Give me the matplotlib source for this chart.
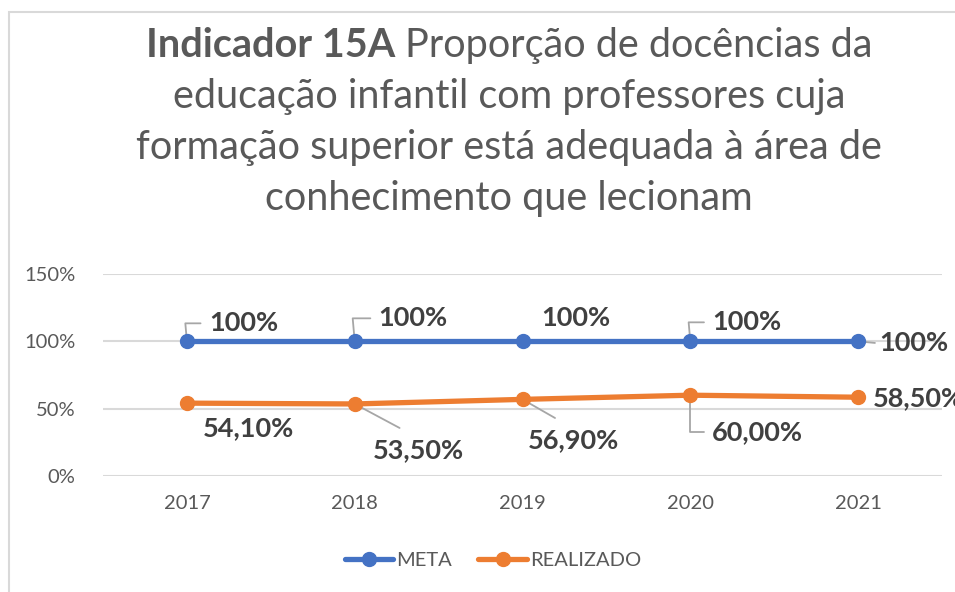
import matplotlib
matplotlib.use("Agg")
import matplotlib.pyplot as plt
from matplotlib.patches import Rectangle

years = ["2017", "2018", "2019", "2020", "2021"]
meta = [100, 100, 100, 100, 100]
realizado = [54.10, 53.50, 56.90, 60.00, 58.50]
meta_labels = ["100%", "100%", "100%", "100%", "100%"]
real_labels = ["54,10%", "53,50%", "56,90%", "60,00%", "58,50%"]
yticks = [0, 50, 100, 150]
ytick_labels = ["0%", "50%", "100%", "150%"]
title_bold = "Indicador 15A"
title_lines = ["Proporção de docências da",
               "educação infantil com professores cuja",
               "formação superior está adequada à área de",
               "conhecimento que lecionam"]

FONT = "Lato"
TXT = "#595959"
LBL = "#404040"
BLUE = "#4472C4"
ORANGE = "#ED7D31"
GRID = "#D9D9D9"
LEAD = "#A6A6A6"

W, H = 955, 592
fig = plt.figure(figsize=(W / 100, H / 100), dpi=100)
plt.rcParams['font.family'] = [FONT, 'DejaVu Sans']

# chart border
fig.patches.append(Rectangle((9 / W, -0.1), 1.2, 1 - 12 / H + 0.1, transform=fig.transFigure,
                             fill=False, edgecolor=GRID, linewidth=1.5))

ax = fig.add_axes([103 / W, 1 - 476 / H, (942 - 103) / W, (476 - 274) / H])
x = list(range(len(years)))
ax.plot(x, meta, color=BLUE, lw=3.8, marker="o", ms=10, solid_capstyle="round", zorder=3, label="META", clip_on=False)
ax.plot(x, realizado, color=ORANGE, lw=3.8, marker="o", ms=10, solid_capstyle="round", zorder=3, label="REALIZADO", clip_on=False)
ax.set_xlim(-0.5, len(years) - 0.5)
ax.set_ylim(0, 150)
ax.set_yticks(yticks)
ax.set_yticklabels(ytick_labels)
ax.set_xticks(x)
ax.set_xticklabels(years)
for s in ax.spines.values():
    s.set_visible(False)
ax.grid(axis="y", color=GRID, lw=1.5)
ax.set_axisbelow(True)
ax.tick_params(length=0, labelsize=14.5, labelcolor=TXT, pad=8)
ax.tick_params(axis="y", pad=20)
ax.tick_params(axis="x", pad=14)

lab_fs = 19.5
lkw = dict(textcoords="offset pixels", fontsize=lab_fs, fontweight="bold", color=LBL,
           annotation_clip=False)
# META labels: (dx, dy, leader)
meta_off = [(22, 18, "angle"), (24, 23, "angle"), (19, 23, None), (22, 19, "angle"), (21, -2, "straight")]
for i, (dx, dy, ld) in enumerate(meta_off):
    ap = None
    if ld == "angle":
        ap = dict(arrowstyle="-", color=LEAD, lw=1.3, relpos=(0, 0.5), shrinkA=4, shrinkB=0,
                  connectionstyle="angle,angleA=0,angleB=95,rad=0")
    elif ld == "straight":
        ap = dict(arrowstyle="-", color=LEAD, lw=1.3, relpos=(0, 0.5), shrinkA=1, shrinkB=0)
    ax.annotate(meta_labels[i], (x[i], meta[i]), xytext=(dx, dy), ha="left", va="center",
                arrowprops=ap, zorder=2, **lkw)

real_off = [(16, -25, None, None), (18, -46, "straight", (0.5, 1)), (5, -41, "straight", (0.5, 1)),
            (22, -37, "angle", (0, 0.5)), (15, -1, None, None)]
for i, (dx, dy, ld, rp) in enumerate(real_off):
    ap = None
    if ld == "angle":
        ap = dict(arrowstyle="-", color=LEAD, lw=1.3, relpos=rp, shrinkA=4, shrinkB=0,
                  connectionstyle="angle,angleA=0,angleB=90,rad=0")
    elif ld == "straight":
        ap = dict(arrowstyle="-", color=LEAD, lw=1.3, relpos=rp, shrinkA=11, shrinkB=0)
    ax.annotate(real_labels[i], (x[i], realizado[i]), xytext=(dx, dy), ha="left", va="center",
                arrowprops=ap, zorder=2, **lkw)

# legend
leg = fig.legend(loc="center", bbox_to_anchor=(493 / W, 1 - 560 / H), ncol=2, frameon=False,
                 fontsize=14.5, labelcolor=TXT, handlelength=2.4, handletextpad=0.15, columnspacing=1.3)

# title
tfs = 28.5
cx = 509 / W
baselines = [57, 108, 159, 210]
r = fig.canvas.get_renderer()
tb = fig.text(0, 0, title_bold + " ", fontsize=tfs, fontweight="bold", color=TXT, va="baseline")
tr = fig.text(0, 0, title_lines[0], fontsize=tfs, color=TXT, va="baseline")
wb = tb.get_window_extent(r).width
wr = tr.get_window_extent(r).width
x0 = 509 - (wb + wr) / 2
tb.set_position((x0 / W, 1 - baselines[0] / H))
tr.set_position(((x0 + wb) / W, 1 - baselines[0] / H))
for k in range(1, 4):
    fig.text(cx, 1 - baselines[k] / H, title_lines[k], fontsize=tfs, color=TXT, ha="center", va="baseline")

fig.savefig("out.png", dpi=100)
